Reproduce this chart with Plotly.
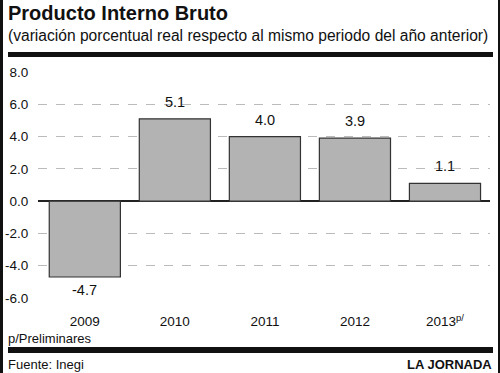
import plotly.graph_objects as go

years = ["2009", "2010", "2011", "2012", "2013<sup>p/</sup>"]
values = [-4.7, 5.1, 4.0, 3.9, 1.1]
value_labels = ["-4.7", "5.1", "4.0", "3.9", "1.1"]
y_ticks = [-6, -4, -2, 0, 2, 4, 6, 8]
y_tick_labels = ["-6.0", "-4.0", "-2.0", "0.0", "2.0", "4.0", "6.0", "8.0"]

FONT = "Liberation Sans, Arial, Helvetica, sans-serif"
W, H = 500, 373
ML, MR, MT, MB = 38, 10, 72, 75

fig = go.Figure()
fig.add_trace(go.Bar(
    x=list(range(len(years))),
    y=values,
    marker=dict(color="#b3b3b3", line=dict(color="#333333", width=1.2)),
    hoverinfo="skip",
))

# value labels placed at each bar's value
for i, (v, lab) in enumerate(zip(values, value_labels)):
    fig.add_annotation(
        x=i, y=v, xref="x", yref="y", text=lab, showarrow=False,
        yanchor="bottom" if v >= 0 else "top",
        yshift=7 if v >= 0 else -3,
        font=dict(family=FONT, size=14.5, color="#111111"),
    )

fig.update_layout(
    width=W, height=H,
    margin=dict(l=ML, r=MR, t=MT, b=MB, autoexpand=False),
    paper_bgcolor="white", plot_bgcolor="white",
    showlegend=False,
    bargap=0.21,
    font=dict(family=FONT, color="#111111"),
)
fig.update_xaxes(
    range=[-0.52, 4.5], automargin=False,
    tickmode="array", tickvals=list(range(len(years))), ticktext=years,
    tickfont=dict(family=FONT, size=13.5, color="#111111"),
    ticks="outside", ticklen=11, tickcolor="rgba(0,0,0,0)",
    showgrid=False, zeroline=False, showline=False,
)
fig.update_yaxes(
    range=[-6, 8], automargin=False,
    tickmode="array", tickvals=y_ticks, ticktext=y_tick_labels,
    tickfont=dict(family=FONT, size=13.5, color="#111111"),
    ticks="outside", ticklen=6, tickcolor="rgba(0,0,0,0)",
    showgrid=True, gridcolor="#bbbbbb", griddash="dash", gridwidth=1,
    zeroline=True, zerolinecolor="#222222", zerolinewidth=2,
    showline=False,
)

def px_x(p):
    return (p - ML) / (W - ML - MR)

def px_y(p):
    return (H - MB - p) / (H - MT - MB)

anns = [
    dict(text="<b>Producto Interno Bruto</b>", px=6, py=13, size=20, anchor="left"),
    dict(text="(variación porcentual real respecto al mismo periodo del año anterior)", px=6, py=35, size=15.6, anchor="left"),
    dict(text="p/Preliminares", px=6, py=338, size=13, anchor="left"),
    dict(text="Fuente: Inegi", px=6, py=364, size=13, anchor="left"),
    dict(text="<b>LA JORNADA</b>", px=494, py=364, size=13, anchor="right"),
]
for a in anns:
    fig.add_annotation(
        text=a["text"], x=px_x(a["px"]), y=px_y(a["py"]),
        xref="paper", yref="paper",
        xanchor=a["anchor"], yanchor="middle",
        showarrow=False,
        font=dict(family=FONT, size=a["size"], color="#111111"),
    )

# thick black rules
for y0, y1 in [(52, 57), (347, 353)]:
    fig.add_shape(type="rect", xref="paper", yref="paper",
                  x0=px_x(8), x1=px_x(493), y0=px_y(y1), y1=px_y(y0),
                  fillcolor="#111111", line=dict(width=0), layer="above")
# side borders
for x0, x1 in [(0, 3), (498, 500)]:
    fig.add_shape(type="rect", xref="paper", yref="paper",
                  x0=px_x(x0), x1=px_x(x1), y0=px_y(H), y1=px_y(0),
                  fillcolor="#111111", line=dict(width=0), layer="above")

fig.write_html("out.html", config={"displayModeBar": False},
               post_script="document.body.style.margin='0';document.body.style.overflow='hidden';")
